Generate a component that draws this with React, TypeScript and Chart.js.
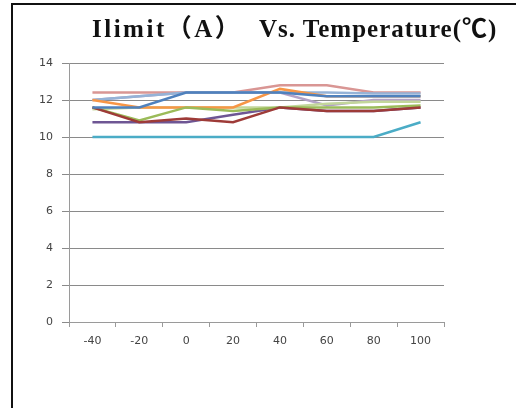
import React, { useEffect, useRef } from "react";
import { Chart, registerables } from "chart.js";

Chart.register(...registerables);

const categories = ["-40", "-20", "0", "20", "40", "60", "80", "100"];
const yTicks = [0, 2, 4, 6, 8, 10, 12, 14];
const titleLeft = "Ilimit（A）";
const titleRight = "Vs. Temperature(℃)";

const seriesPink = [12.4, 12.4, 12.4, 12.4, 12.8, 12.8, 12.4, 12.4];
const seriesLightBlue = [12.0, 12.2, 12.4, 12.4, 12.4, 12.4, 12.35, 12.35];
const seriesOrange = [12.0, 11.6, 11.6, 11.6, 12.6, 12.2, 12.2, 12.2];
const seriesBlue = [11.6, 11.6, 12.4, 12.4, 12.4, 12.2, 12.2, 12.2];
const seriesLavender = [12.0, 12.2, 12.4, 12.4, 12.4, 11.7, 12.0, 12.0];
const seriesLightGreen = [11.5, 11.6, 11.6, 11.6, 11.6, 11.8, 11.9, 11.9];
const seriesGreen = [11.6, 10.9, 11.6, 11.4, 11.6, 11.6, 11.6, 11.7];
const seriesRed = [11.6, 10.8, 11.0, 10.8, 11.6, 11.4, 11.4, 11.6];
const seriesPurple = [10.8, 10.8, 10.8, 11.2, 11.6, 11.4, 11.4, 11.6];
const seriesTeal = [10.0, 10.0, 10.0, 10.0, 10.0, 10.0, 10.0, 10.8];

const seriesList = [
  { name: "S1", data: seriesBlue, color: "#4F81BD" },
  { name: "S2", data: seriesRed, color: "#9E3B38" },
  { name: "S3", data: seriesGreen, color: "#9BBB59" },
  { name: "S4", data: seriesPurple, color: "#6E5694" },
  { name: "S5", data: seriesTeal, color: "#4BACC6" },
  { name: "S6", data: seriesOrange, color: "#F79646" },
  { name: "S7", data: seriesLightBlue, color: "#95B3D7" },
  { name: "S8", data: seriesPink, color: "#D99694" },
  { name: "S9", data: seriesLightGreen, color: "#C3D69B" },
  { name: "S10", data: seriesLavender, color: "#B3A2C7" },
];

const titleStyle: React.CSSProperties = {
  position: "absolute",
  top: 14,
  whiteSpace: "pre",
  fontFamily: "'Liberation Serif', 'Noto Sans CJK SC', serif",
  fontWeight: "bold",
  fontSize: 25,
  letterSpacing: 1,
  color: "#111",
  lineHeight: "30px",
};

export default function App() {
  const ref = useRef<HTMLCanvasElement | null>(null);
  useEffect(() => {
    if (!ref.current) return;
    const chart = new Chart(ref.current, {
      type: "line",
      data: {
        labels: categories,
        datasets: seriesList.map((s) => ({
          label: s.name,
          data: s.data,
          borderColor: s.color,
          backgroundColor: s.color,
          borderWidth: 2.5,
          pointRadius: 0,
          tension: 0,
          fill: false,
        })),
      },
      options: {
        animation: false,
        responsive: false,
        layout: { padding: { left: 0, right: 72, top: 63, bottom: 0 } },
        plugins: { legend: { display: false }, title: { display: false }, tooltip: { enabled: false } },
        scales: {
          x: {
            offset: true,
            afterFit: (s: any) => { s.height = 86; },
            grid: { display: true, drawOnChartArea: false, drawTicks: true, tickLength: 5, offset: true, color: "#9a9a9a" },
            border: { display: true, color: "#9a9a9a", width: 1 },
            ticks: { padding: 8, color: "#444", font: { family: "DejaVu Sans", size: 11 } },
          },
          y: {
            min: 0,
            max: 14,
            afterFit: (s: any) => { s.width = 69; },
            afterBuildTicks: (s: any) => { s.ticks = yTicks.map((v) => ({ value: v })); },
            grid: { color: "#8a8a8a", tickLength: 7, drawTicks: true },
            border: { display: true, color: "#9a9a9a", width: 1 },
            ticks: { padding: 9, color: "#444", font: { family: "DejaVu Sans", size: 11 } },
          },
        },
      },
    });
    return () => chart.destroy();
  }, []);
  return (
    <div style={{ position: "fixed", left: 0, top: 0, width: 516, height: 408, background: "#fff", overflow: "hidden" }}>
      <div style={{ position: "absolute", left: 11, top: 3, right: 0, bottom: 0, borderLeft: "2px solid #111", borderTop: "2px solid #111" }} />
      <canvas ref={ref} width={516} height={408} style={{ position: "absolute", left: 0, top: 0 }} />
      <div style={{ ...titleStyle, left: 92, letterSpacing: 2.5 }}>{titleLeft}</div>
      <div style={{ ...titleStyle, left: 259 }}>{titleRight}</div>
    </div>
  );
}
